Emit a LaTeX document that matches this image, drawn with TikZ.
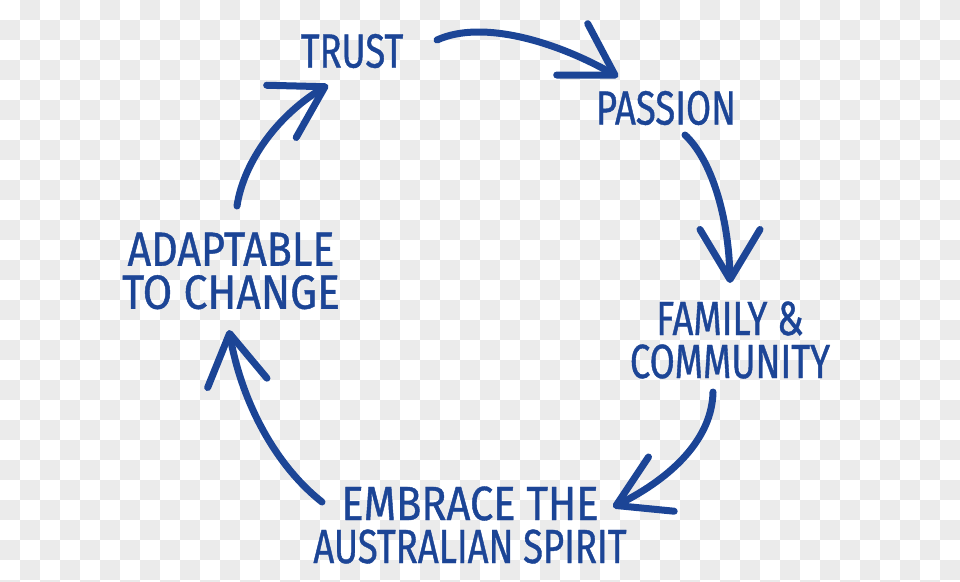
\documentclass[tikz,border=0pt]{standalone}
\usepackage{fontspec}
\usepackage{tikz}
\usetikzlibrary{arrows.meta,bending,calc}
\newfontfamily\handfont[FakeStretch=0.76,FakeBold=0.8]{Fira Sans}
\definecolor{valBlue}{HTML}{1C4596}
\definecolor{valChecker}{HTML}{EBEBEB}
\tikzset{
  word/.style={
    text=valBlue,
    align=center,
    inner sep=0pt,
    font=\handfont\fontsize{48}{43}\selectfont
  },
  cyclearrow/.style={
    -{Straight Barb[length=50pt,width=60pt,round]},
    line width=7pt,
    line cap=round,
    draw=valBlue
  },
  checker/.style={fill=valChecker}
}

\begin{document}
\begin{tikzpicture}[x=1pt,y=-1pt]
  \useasboundingbox (0,0) rectangle (960,581);
  % checkered backdrop
  \begin{scope}
    \clip (0,0) rectangle (960,581);
    \foreach \i in {0,2,...,46}
      \foreach \j in {1,3,...,29}
        \fill[checker] (20*\i,20*\j) rectangle ++(20,20);
    \foreach \i in {1,3,...,47}
      \foreach \j in {0,2,...,28}
        \fill[checker] (20*\i,20*\j) rectangle ++(20,20);
  \end{scope}

  \node[word] (trust) at (352,51) {TRUST};
  \node[word] (passion) at (666,108) {PASSION};
  \node[word] (family) at (730,340) {FAMILY \&\\COMMUNITY};
  \node[word] (embrace) at (470,525) {\scalebox{1.14}[1]{EMBRACE THE}\\AUSTRALIAN SPIRIT};
  \node[word] (adapt) at (231,271) {\scalebox{1.13}[1]{ADAPTABLE}\\\scalebox{1.17}[1]{TO CHANGE}};

  \draw[cyclearrow] ($(trust)+(85,-11)$) .. controls ($(trust)+(133,-33)$) and ($(passion)+(-101,-63)$) .. ($(passion)+(-48,-31)$);
  \draw[cyclearrow] ($(passion)+(19,27)$) .. controls ($(passion)+(46,52)$) and ($(family)+(0,-120)$) .. ($(family)+(0,-57)$);
  \draw[cyclearrow] ($(family)+(-17,52)$) .. controls ($(family)+(-18,100)$) and ($(embrace)+(200,-45)$) .. ($(embrace)+(143,-18)$);
  \draw[cyclearrow] ($(embrace)+(-148,-23)$) .. controls ($(embrace)+(-195,-60)$) and ($(adapt)+(9,129)$) .. ($(adapt)+(-2,59)$);
  \draw[cyclearrow] ($(adapt)+(6,-65)$) .. controls ($(adapt)+(12,-106)$) and ($(trust)+(-77,64)$) .. ($(trust)+(-24,34)$);
\end{tikzpicture}
\end{document}
